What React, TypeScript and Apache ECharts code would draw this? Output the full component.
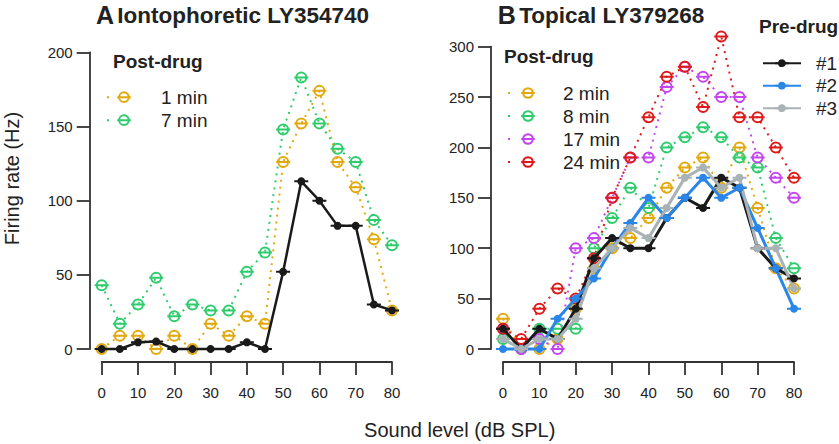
import React, { useEffect, useRef } from 'react';
import * as echarts from 'echarts';

const FONT = '"Liberation Sans", Arial, Helvetica, sans-serif';

// Sound levels (dB SPL)
const soundLevels = [0, 5, 10, 15, 20, 25, 30, 35, 40, 45, 50, 55, 60, 65, 70, 75, 80];

// Panel A: Iontophoretic LY354740 (firing rate, Hz)
const aPreDrug = [0, 0, 4.5, 5, 0, 0, 0, 0, 4.5, 0, 52, 113, 100, 83, 83, 30, 26];
const aPost1min = [0, 9, 9, 0, 9, 0, 17, 9, 22, 17, 126, 152, 174, 126, 109, 74, 26];
const aPost7min = [43, 17, 30, 48, 22, 30, 26, 26, 52, 65, 148, 183, 152, 135, 126, 87, 70];

// Panel B: Topical LY379268 (firing rate, Hz)
const bPre1 = [20, 0, 20, 10, 40, 90, 110, 100, 100, 130, 150, 140, 170, 160, 100, 80, 70];
const bPre2 = [0, 0, 0, 30, 50, 70, 100, 125, 150, 130, 150, 170, 150, 160, 120, 80, 40];
const bPre3 = [10, 0, 10, 10, 30, 80, 100, 120, 110, 140, 170, 180, 160, 170, 100, 100, 60];
const bPost2min = [30, 0, 0, 10, 40, 80, 100, 110, 130, 160, 180, 190, 160, 200, 140, 80, 60];
const bPost8min = [10, 0, 20, 20, 20, 100, 130, 160, 140, 200, 210, 220, 210, 190, 180, 110, 80];
const bPost17min = [20, 0, 10, 0, 100, 110, 150, 190, 190, 260, 280, 270, 250, 250, 190, 170, 150];
const bPost24min = [20, 10, 40, 60, 50, 90, 150, 190, 230, 270, 280, 240, 310, 230, 230, 200, 170];

const C_ORANGE = '#e2a90f';
const C_GREEN = '#2fcc6e';
const C_PURPLE = '#c445f2';
const C_RED = '#de1a1a';
const C_BLACK = '#1a1a1a';
const C_BLUE = '#2a87e8';
const C_GREY = '#a9b3b6';
const AXIS = '#333333';

const OPEN = 'path://M-7,-7M-5,0A5,5,0,1,1,5,0A5,5,0,1,1,-5,0ZM-7,0L7,0M7,7';
const FILLED = 'path://M-7,-7M-3,0A3,3,0,1,1,3,0A3,3,0,1,1,-3,0ZM-7,0L7,0M7,7';

const toPoints = (vals: number[]) => soundLevels.map((x, i) => [x, vals[i]]);

function postSeries(name: string, vals: number[], color: string, idx: number) {
  return {
    name,
    type: 'line',
    xAxisIndex: idx,
    yAxisIndex: idx,
    data: toPoints(vals),
    symbol: OPEN,
    symbolSize: 14,
    clip: false,
    lineStyle: { color, width: 2, type: [2, 5] },
    itemStyle: { color: 'transparent', borderColor: color, borderWidth: 2 },
    emphasis: { disabled: true },
    z: 2,
  };
}

function preSeries(name: string, vals: number[], color: string, idx: number, width: number) {
  return {
    name,
    type: 'line',
    xAxisIndex: idx,
    yAxisIndex: idx,
    data: toPoints(vals),
    symbol: FILLED,
    symbolSize: 14,
    clip: false,
    lineStyle: { color, width },
    itemStyle: { color, borderColor: color, borderWidth: 2 },
    emphasis: { disabled: true },
    z: 3,
  };
}

const axisCommon = {
  axisLine: { show: true, onZero: false, lineStyle: { color: AXIS, width: 1.8 } },
  axisTick: { show: true, inside: false, length: 13, lineStyle: { color: AXIS, width: 1.8 } },
  splitLine: { show: false },
};

function xAxis(idx: number) {
  return {
    ...axisCommon,
    gridIndex: idx,
    type: 'value',
    min: 0,
    max: 80,
    interval: 10,
    offset: 13,
    axisLabel: { color: '#222', fontSize: 15, fontFamily: FONT, margin: 23 },
  };
}

function yAxis(idx: number, max: number) {
  return {
    ...axisCommon,
    gridIndex: idx,
    type: 'value',
    min: 0,
    max,
    interval: 50,
    offset: 12,
    axisLabel: { color: '#222', fontSize: 15, fontFamily: FONT, margin: 17 },
  };
}

function legend(
  names: string[],
  left: number,
  top: number,
  itemWidth: number,
  textPad: number,
  gap: number,
  dotted: boolean
) {
  const l: any = {
    data: names,
    orient: 'vertical',
    left,
    top,
    padding: 0,
    itemWidth,
    itemHeight: 17,
    itemGap: gap,
    selectedMode: false,
    textStyle: { fontSize: 19, color: '#222', fontFamily: FONT, lineHeight: 17, padding: [0, 0, 0, textPad] },
  };
  if (dotted) l.lineStyle = { type: [2, 300], width: 2 };
  return l;
}

function label(text: string, x: number, y: number, size: number, bold: boolean, align = 'left', rotation = 0) {
  return {
    type: 'text',
    x,
    y,
    rotation,
    style: {
      text,
      fontSize: size,
      fontWeight: bold ? 'bold' : 'normal',
      fontFamily: FONT,
      fill: '#222',
      align,
      verticalAlign: 'middle',
    },
  };
}

function title(letter: string, rest: string, x: number) {
  return {
    type: 'text',
    x,
    y: 15,
    style: {
      text: `{a|${letter}} {b|${rest}}`,
      fontFamily: FONT,
      fontWeight: 'bold',
      fill: '#222',
      align: 'center',
      verticalAlign: 'middle',
      rich: {
        a: { fontSize: 25, fontWeight: 'bold', fontFamily: FONT, fill: '#222' },
        b: { fontSize: 22.5, fontWeight: 'bold', fontFamily: FONT, fill: '#222' },
      },
    },
  };
}

export default function App() {
  const ref = useRef<HTMLDivElement>(null);

  useEffect(() => {
    document.body.style.margin = '0';
    if (!ref.current) return;
    const chart = echarts.init(ref.current, undefined, { renderer: 'svg' });
    const option: any = {
      animation: false,
      backgroundColor: '#ffffff',
      grid: [
        { left: 101.7, top: 52.3, width: 290.3, height: 296.7, outerBoundsMode: 'none' },
        { left: 503, top: 46.6, width: 291, height: 302.4, outerBoundsMode: 'none' },
      ],
      xAxis: [xAxis(0), xAxis(1)],
      yAxis: [yAxis(0, 200), yAxis(1, 300)],
      legend: [
        legend(['1 min', '7 min'], 106, 87.7, 34, 15, 4, true),
        legend(['2 min', '8 min', '17 min', '24 min'], 507, 83.5, 40, 10, 4, true),
        legend(['#1', '#2', '#3'], 762, 53.7, 38, 10, 3.5, false),
      ],
      graphic: [
        title('A', 'Iontophoretic LY354740', 232.5),
        title('B', 'Topical LY379268', 601),
        label('Post-drug', 113, 61.7, 19, true),
        label('Post-drug', 504, 56.7, 19, true),
        label('Pre-drug', 759, 26, 19, true),
        label('Firing rate (Hz)', 11.5, 178.5, 20, false, 'center', Math.PI / 2),
        label('Sound level (dB SPL)', 459.7, 430, 20, false, 'center'),
      ],
      series: [
        preSeries('Pre-drug A', aPreDrug, C_BLACK, 0, 2.5),
        postSeries('1 min', aPost1min, C_ORANGE, 0),
        postSeries('7 min', aPost7min, C_GREEN, 0),
        postSeries('2 min', bPost2min, C_ORANGE, 1),
        postSeries('8 min', bPost8min, C_GREEN, 1),
        postSeries('17 min', bPost17min, C_PURPLE, 1),
        postSeries('24 min', bPost24min, C_RED, 1),
        preSeries('#1', bPre1, C_BLACK, 1, 3),
        preSeries('#2', bPre2, C_BLUE, 1, 3),
        preSeries('#3', bPre3, C_GREY, 1, 3),
      ],
    };
    chart.setOption(option);
    return () => chart.dispose();
  }, []);

  return <div ref={ref} style={{ width: 839, height: 444 }} />;
}
